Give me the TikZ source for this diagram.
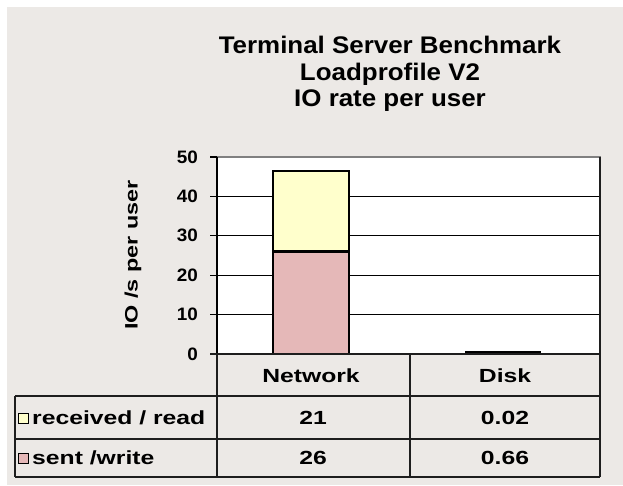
\documentclass[tikz,border=0pt]{standalone}
\usepackage{fontspec}
\setmainfont{Liberation Sans}
\newfontfamily\titlefont[FakeStretch=1.08]{Liberation Sans}
\newfontfamily\labelfont[FakeStretch=1.3]{Liberation Sans}
\newfontfamily\tickfont[FakeStretch=1.05]{Liberation Sans}
\definecolor{panel}{RGB}{236,233,230}
\definecolor{sentfill}{RGB}{229,184,184}
\definecolor{recvfill}{RGB}{255,255,204}
\definecolor{frame}{RGB}{128,128,128}
\definecolor{rule}{RGB}{30,30,30}
\tikzset{
  x=1pt, y=-1pt,
  grid/.style={line width=1.3pt, black},
  tbl/.style={line width=1.5pt, rule},
  barbox/.style={line width=1.3pt, black},
  ticklab/.style={anchor=east, font=\tickfont\bfseries\fontsize{18}{18}\selectfont, inner sep=0pt},
  cell/.style={font=\labelfont\bfseries\fontsize{19}{19}\selectfont, inner sep=0pt},
  legsq/.style={draw=black, line width=1pt, minimum size=10pt, inner sep=0pt},
}
\begin{document}
\begin{tikzpicture}
% canvas and panel
\fill[white] (0,0) rectangle (623,485);
\useasboundingbox (0,0) rectangle (623,485);
\fill[panel] (7,7) rectangle (623,485);

% title
\node[align=center, font=\titlefont\bfseries\fontsize{24}{26.5}\selectfont] (title) at (390,74)
  {Terminal Server Benchmark\\Loadprofile V2\\IO rate per user};

% plot area
\coordinate (pTL) at (217,157);
\coordinate (pBR) at (600,354);
\fill[white] (pTL) rectangle (pBR);

% grid lines at 10..40
\foreach \v in {10,20,30,40} {
  \draw[grid] (210,{354-3.94*\v}) -- (600,{354-3.94*\v});
}

% bars: Network (sent 26, received 21)
\fill[sentfill] (273,354) rectangle (349,251.6);
\fill[recvfill] (273,251.6) rectangle (349,171);
\draw[barbox] (273,354) rectangle (349,171);
\draw[line width=3pt, black] (273,251) -- (349,251);
% Disk (0.66 + 0.02): a sliver on the baseline
\fill[black] (465,354) rectangle (541,351.2);

% plot frame
\draw[line width=1.3pt, frame] (217,157) -- (600,157) -- (600,354);
\draw[line width=1.3pt, black] (217,157) -- (217,354);
\draw[line width=1.3pt, black] (210,157) -- (217,157);

% y tick labels
\foreach \v in {0,10,20,30,40,50} {
  \node[ticklab] (t\v) at (198,{354-3.94*\v}) {\v};
}
\node[rotate=90, font=\labelfont\bfseries\fontsize{18}{18}\selectfont] (ytitle) at (133,255) {IO /s per user};

% data table
\draw[tbl] (210,354) -- (600,354);
\draw[tbl] (15,396) -- (600,396);
\draw[tbl] (15,439) -- (600,439);
\draw[tbl] (15,477) -- (600,477);
\draw[tbl] (15,396) -- (15,477);
\draw[tbl] (217,354) -- (217,477);
\draw[tbl] (410,354) -- (410,477);
\draw[tbl] (600,157) -- (600,477);

\node[cell] (hNet) at (311,376) {Network};
\node[cell] (hDisk) at (505,376) {Disk};

\node[legsq, fill=recvfill] (sqR) at (23.5,418) {};
\node[cell, anchor=west] (lR) at (32,418) {received / read};
\node[legsq, fill=sentfill] (sqS) at (23.5,458) {};
\node[cell, anchor=west] (lS) at (32,458) {sent /write};

\node[cell] (nR) at (313,418) {21};
\node[cell] (dR) at (505,418) {0.02};
\node[cell] (nS) at (313,458) {26};
\node[cell] (dS) at (505,458) {0.66};
\end{tikzpicture}
\end{document}
